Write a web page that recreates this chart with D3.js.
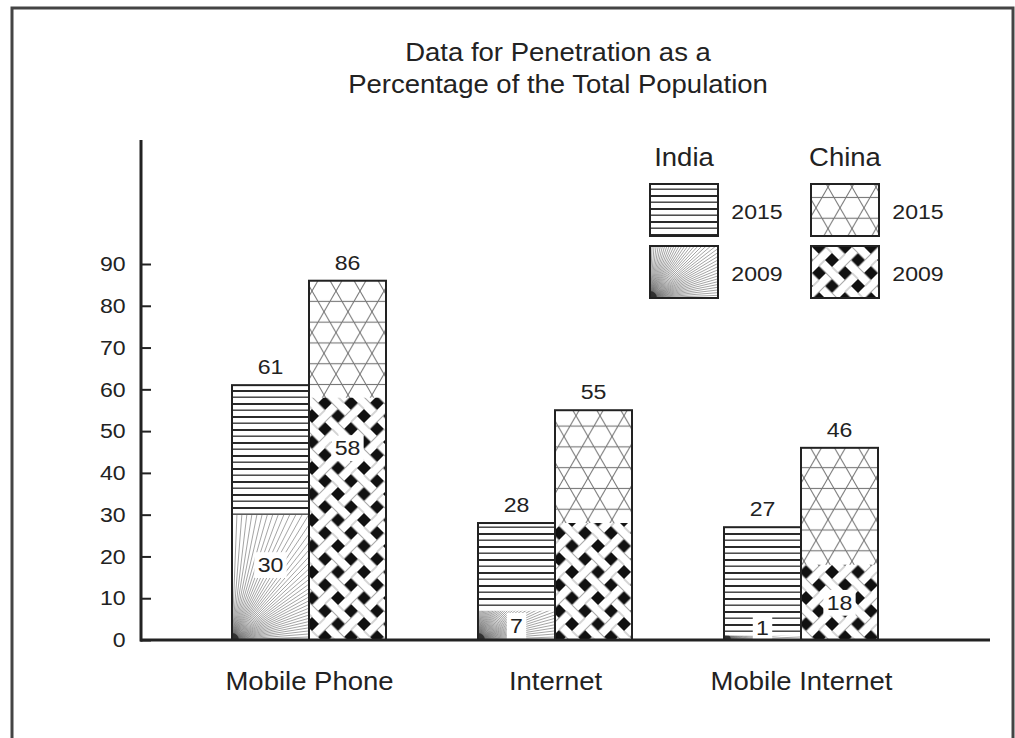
<!DOCTYPE html>
<html>
<head>
<meta charset="utf-8">
<script src="https://cdn.jsdelivr.net/npm/d3@7"></script>
<style>
  body { margin: 0; background: #fff; }
  svg text { font-family: "Liberation Sans", Arial, sans-serif; fill: #222; }
</style>
</head>
<body>
<script>
// values
const categories = ['Mobile Phone', 'Internet', 'Mobile Internet'];
const india2015 = [61, 28, 27];
const india2009 = [30, 7, 1];
const china2015 = [86, 55, 46];
const china2009 = [58, 28, 18];
// the source prints no number inside the China 2009 internet bar
const china2009Labelled = [true, false, true];
const yTicks = [0, 10, 20, 30, 40, 50, 60, 70, 80, 90];
const titleLines = ['Data for Penetration as a', 'Percentage of the Total Population'];

const W = 1015, H = 738;
const stretch = 'scale(1.1,1)';   // the source image is a bit wider than Arial

const svg = d3.select('body').append('svg')
  .attr('width', W)
  .attr('height', H);

const defs = svg.append('defs');

// India 2015: horizontal rules
let hl = defs.append('pattern')
  .attr('id', 'hlines')
  .attr('patternUnits', 'userSpaceOnUse')
  .attr('width', 10).attr('height', 13);
hl.append('rect').attr('width', 10).attr('height', 13).attr('fill', '#fff');
hl.append('rect').attr('y', 0).attr('width', 10).attr('height', 2).attr('fill', '#2a2a2a');
hl.append('rect').attr('y', 6.5).attr('width', 10).attr('height', 1.4).attr('fill', '#3a3a3a');

// China 2015: star / kagome lattice
const kw = 24, kd = kw * Math.sqrt(3) / 2;
let kg = defs.append('pattern')
  .attr('id', 'kagome')
  .attr('patternUnits', 'userSpaceOnUse')
  .attr('width', kw).attr('height', 2 * kd);
kg.append('rect').attr('width', kw).attr('height', 2 * kd).attr('fill', '#fff');
d3.range(-3, 4).forEach(k => {
  kg.append('line')
    .attr('x1', k * kw).attr('y1', 0)
    .attr('x2', k * kw + 2 * kd / Math.sqrt(3)).attr('y2', 2 * kd);
  kg.append('line')
    .attr('x1', k * kw).attr('y1', 0)
    .attr('x2', k * kw - 2 * kd / Math.sqrt(3)).attr('y2', 2 * kd);
});
[kd / 2, 1.5 * kd].forEach(yy => {
  kg.append('line').attr('x1', 0).attr('x2', kw).attr('y1', yy).attr('y2', yy);
});
kg.selectAll('line').attr('stroke', '#777').attr('stroke-width', 1.1);

// China 2009: woven lattice with black diamonds (built square, turned 45deg)
const ws = 26 / Math.sqrt(2), wh = 7 / Math.sqrt(2);
let wv = defs.append('pattern')
  .attr('id', 'weave')
  .attr('patternUnits', 'userSpaceOnUse')
  .attr('patternTransform', 'rotate(45)')
  .attr('width', 2 * ws).attr('height', 2 * ws);
wv.append('rect').attr('width', 2 * ws).attr('height', 2 * ws).attr('fill', '#fff');
[0, 1, 2].forEach(i => [0, 1, 2].forEach(j => {
  wv.append('rect')
    .attr('x', i * ws - wh).attr('y', j * ws - wh)
    .attr('width', 2 * wh).attr('height', 2 * wh)
    .attr('fill', '#111');
}));
[0, 1].forEach(i => [0, 1].forEach(j => {
  let x0 = i * ws + wh, x1 = (i + 1) * ws - wh;
  let y0 = j * ws + wh, y1 = (j + 1) * ws - wh;
  let segs = (i + j) % 2 === 0
    ? [[x0, y0, x1, y0], [x0, y1, x1, y1]]
    : [[x0, y0, x0, y1], [x1, y0, x1, y1]];
  segs.forEach(s => {
    wv.append('line')
      .attr('x1', s[0]).attr('y1', s[1]).attr('x2', s[2]).attr('y2', s[3])
      .attr('stroke', '#aaa').attr('stroke-width', 1);
  });
}));

let clipCount = 0;
// India 2009: lines fanning out from the bottom-left corner
function radial(g, x, y, w, h) {
  let id = 'clip' + (clipCount++);
  defs.append('clipPath').attr('id', id)
    .append('rect').attr('x', x).attr('y', y).attr('width', w).attr('height', h);
  let rg = g.append('g').attr('clip-path', `url(#${id})`);
  rg.append('rect').attr('x', x).attr('y', y).attr('width', w).attr('height', h).attr('fill', '#fff');
  let len = Math.hypot(w, h) + 5;
  d3.range(0, 41).forEach(i => {
    let a = (i / 40) * Math.PI / 2;
    rg.append('line')
      .attr('x1', x).attr('y1', y + h)
      .attr('x2', x + len * Math.cos(a)).attr('y2', y + h - len * Math.sin(a))
      .attr('stroke', '#666').attr('stroke-width', 0.6);
  });
  // dark spot where the rays meet
  rg.append('circle')
    .attr('cx', x).attr('cy', y + h).attr('r', 7)
    .attr('fill', '#222').attr('opacity', 0.8);
}

// frame
svg.append('rect')
  .attr('x', 12).attr('y', 8)
  .attr('width', 1001).attr('height', 800)
  .attr('fill', 'none')
  .attr('stroke', '#444')
  .attr('stroke-width', 3);

// title
svg.selectAll('.title')
  .data(titleLines)
  .enter()
  .append('text')
  .attr('class', 'title')
  .attr('transform', (d, i) => `translate(558,${61 + i * 32}) ${stretch}`)
  .attr('text-anchor', 'middle')
  .attr('font-size', 25)
  .text(d => d);

// scales
const y = d3.scaleLinear().domain([0, 90]).range([640, 264]);
const x = d3.scalePoint().domain(categories).range([309, 801]);
const sub = d3.scaleBand().domain(['India', 'China']).range([-77, 77]);
const bw = sub.bandwidth();
const y0 = y(0);

// y axis
let yAxis = svg.append('g')
  .attr('transform', 'translate(141,0)')
  .call(d3.axisLeft(y).tickValues(yTicks).tickSize(-10).tickPadding(14));
yAxis.attr('font-size', null).attr('font-family', null);
yAxis.select('.domain').remove();
yAxis.selectAll('.tick line').attr('stroke', '#222').attr('stroke-width', 2);
yAxis.selectAll('.tick text')
  .attr('font-size', 21)
  .attr('transform', stretch);

svg.append('line')
  .attr('x1', 141).attr('x2', 141)
  .attr('y1', 140).attr('y2', y0 + 1.5)
  .attr('stroke', '#222').attr('stroke-width', 3);

// bars
categories.forEach((cat, i) => {
  let g = svg.append('g');
  let xi = x(cat) + sub('India');
  let xc = x(cat) + sub('China');

  g.append('rect')
    .attr('x', xi).attr('y', y(india2015[i]))
    .attr('width', bw).attr('height', y0 - y(india2015[i]))
    .attr('fill', 'url(#hlines)');
  radial(g, xi, y(india2009[i]), bw, y0 - y(india2009[i]));

  g.append('rect')
    .attr('x', xc).attr('y', y(china2015[i]))
    .attr('width', bw).attr('height', y0 - y(china2015[i]))
    .attr('fill', 'url(#kagome)');
  g.append('rect')
    .attr('x', xc).attr('y', y(china2009[i]))
    .attr('width', bw).attr('height', y0 - y(china2009[i]))
    .attr('fill', 'url(#weave)');

  [[xi, india2015[i]], [xc, china2015[i]]].forEach(([bx, v]) => {
    g.append('rect')
      .attr('x', bx).attr('y', y(v))
      .attr('width', bw).attr('height', y0 - y(v))
      .attr('fill', 'none')
      .attr('stroke', '#222')
      .attr('stroke-width', 2);
    g.append('text')
      .attr('transform', `translate(${bx + bw / 2},${y(v) - 11}) ${stretch}`)
      .attr('text-anchor', 'middle')
      .attr('font-size', 21)
      .text(v);
  });

  // inner labels on a white box
  let inner = [[xi, india2009[i]]];
  if (china2009Labelled[i]) inner.push([xc, china2009[i]]);
  inner.forEach(([bx, v]) => {
    let cy = Math.min(y(v) + Math.min(50, (y0 - y(v)) / 2), y0 - 13);
    let lg = g.append('g').attr('transform', `translate(${bx + bw / 2},${cy}) ${stretch}`);
    let t = lg.append('text')
      .attr('text-anchor', 'middle')
      .attr('dy', '0.36em')
      .attr('font-size', 21)
      .text(v);
    let bb = t.node().getBBox();
    lg.insert('rect', 'text')
      .attr('x', bb.x - 3).attr('y', bb.y - 1)
      .attr('width', bb.width + 6).attr('height', bb.height + 2)
      .attr('fill', '#fff');
  });
});

// x axis
svg.append('line')
  .attr('x1', 140).attr('x2', 990)
  .attr('y1', y0).attr('y2', y0)
  .attr('stroke', '#222').attr('stroke-width', 3);

let xAxis = svg.append('g')
  .attr('transform', `translate(0,${y0})`)
  .call(d3.axisBottom(x).tickSize(0).tickPadding(32));
xAxis.attr('font-size', null).attr('font-family', null);
xAxis.select('.domain').remove();
xAxis.selectAll('.tick text')
  .attr('font-size', 25)
  .attr('transform', stretch);

// legend
const legendCols = [{ name: 'India', x: 650, fills: ['url(#hlines)', 'radial'] },
                    { name: 'China', x: 811, fills: ['url(#kagome)', 'url(#weave)'] }];
const legendYears = ['2015', '2009'];
const sw = 68, sh = 52;

legendCols.forEach(col => {
  let lg = svg.append('g');
  lg.append('text')
    .attr('transform', `translate(${col.x + sw / 2},166) ${stretch}`)
    .attr('text-anchor', 'middle')
    .attr('font-size', 25)
    .text(col.name);
  legendYears.forEach((yr, j) => {
    let ry = 184 + j * 62;
    if (col.fills[j] === 'radial') {
      radial(lg, col.x, ry, sw, sh);
    } else {
      lg.append('rect')
        .attr('x', col.x).attr('y', ry)
        .attr('width', sw).attr('height', sh)
        .attr('fill', col.fills[j]);
    }
    lg.append('rect')
      .attr('x', col.x).attr('y', ry)
      .attr('width', sw).attr('height', sh)
      .attr('fill', 'none')
      .attr('stroke', '#222')
      .attr('stroke-width', 2);
    lg.append('text')
      .attr('transform', `translate(${col.x + sw + 39},${ry + 35}) ${stretch}`)
      .attr('text-anchor', 'middle')
      .attr('font-size', 21)
      .text(yr);
  });
});
</script>
</body>
</html>
